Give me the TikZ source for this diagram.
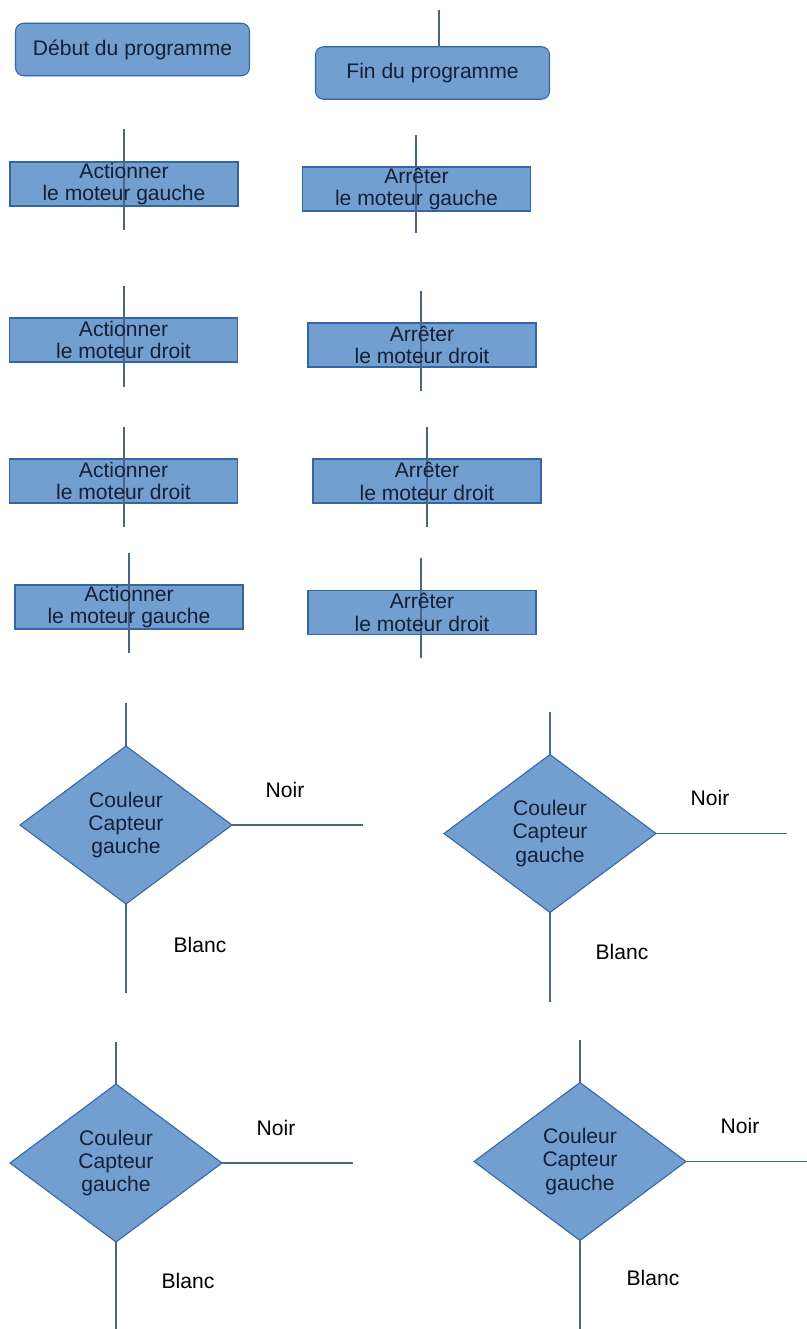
\documentclass[tikz,border=0pt]{standalone}
\usepackage{fontspec}
\setmainfont{Liberation Sans}
\usepackage{tikz}
\usetikzlibrary{arrows,positioning,shapes.geometric}
\definecolor{boxfill}{HTML}{729FCF}
\definecolor{boxline}{HTML}{3465A4}
\definecolor{wirecol}{HTML}{4A6587}
\definecolor{txtcol}{HTML}{142036}
\tikzset{
    %Define style for start and end boxes
    terminal/.style={
           rectangle,
           rounded corners=0.16cm,
           draw=boxline, line width=0.6pt,
           fill=boxfill,
           minimum width=4.68cm,
           minimum height=1.05cm,
           inner sep=0pt, outer sep=0pt,
           text=txtcol,
           font=\fontsize{12}{13}\selectfont},
    %Define style for action boxes
    action/.style={
           rectangle,
           draw=boxline, line width=0.6pt,
           fill=boxfill,
           minimum width=4.56cm,
           minimum height=0.88cm,
           inner sep=0pt, outer sep=0pt},
    %Define style for the texts of the boxes
    actiontext/.style={
           align=center,
           inner sep=0pt,
           text=txtcol,
           font=\fontsize{12}{13}\selectfont},
    %Define style for tests
    test/.style={
           diamond,
           aspect=1.34,
           draw=boxline, line width=0.6pt,
           fill=boxfill,
           minimum width=4.24cm,
           minimum height=3.16cm,
           inner sep=0pt, outer sep=0pt,
           align=center,
           text=txtcol,
           font=\fontsize{12}{13.3}\selectfont},
    % Define style for answers
    answer/.style={
           inner sep=0pt,
           text=black,
           font=\fontsize{12}{13}\selectfont},
    % Define wire style
    wire/.style={
           draw=wirecol,
           line width=0.65pt}
}

\begin{document}
\begin{tikzpicture}[x=0.02cm,y=-0.02cm]
\useasboundingbox (0,0) rectangle (807,1329);

% start and end
\node[terminal](debut) at (132.5,49.5){Début du programme};
\node[terminal](fin) at (432.5,73){Fin du programme};
\coordinate (fin-in) at (439,10);
\draw[wire] (fin-in) -- (fin-in |- fin.north);

% boxes
\node[action](act1) at (124,184){};
\node[action](arr1) at (416.5,189){};
\node[action](act2) at (123.5,340){};
\node[action](arr2) at (422,345){};
\node[action](act3) at (123.5,481){};
\node[action](arr3) at (427,481){};
\node[action](act4) at (129,607){};
\node[action](arr4) at (422,612.5){};

\coordinate (act1-in) at (124,129);  \coordinate (act1-out) at (124,230);
\coordinate (arr1-in) at (416,135);  \coordinate (arr1-out) at (416,233);
\coordinate (act2-in) at (124,286);  \coordinate (act2-out) at (124,387);
\coordinate (arr2-in) at (421,291);  \coordinate (arr2-out) at (421,391);
\coordinate (act3-in) at (124,427);  \coordinate (act3-out) at (124,527);
\coordinate (arr3-in) at (427,427);  \coordinate (arr3-out) at (427,527);
\coordinate (act4-in) at (129,553);  \coordinate (act4-out) at (129,653);
\coordinate (arr4-in) at (421,558);  \coordinate (arr4-out) at (421,658);

\draw[wire]
	(act1-in) -- (act1-out)
	(arr1-in) -- (arr1-out)
	(act2-in) -- (act2-out)
	(arr2-in) -- (arr2-out)
	(act3-in) -- (act3-out)
	(arr3-in) -- (arr3-out)
	(act4-in) -- (act4-out)
	(arr4-in) -- (arr4-out);

\node[actiontext](act1-txt) at (act1){Actionner\\le moteur gauche};
\node[actiontext](arr1-txt) at (arr1){Arrêter\\le moteur gauche};
\node[actiontext](act2-txt) at (act2){Actionner\\le moteur droit};
\node[actiontext](arr2-txt) at (arr2){Arrêter\\le moteur droit};
\node[actiontext](act3-txt) at (act3){Actionner\\le moteur droit};
\node[actiontext](arr3-txt) at (arr3){Arrêter\\le moteur droit};
\node[actiontext](act4-txt) at (act4){Actionner\\le moteur gauche};
\node[actiontext](arr4-txt) at (arr4){Arrêter\\le moteur droit};

% tests
\node[test](test1) at (126,825){Couleur\\Capteur\\gauche};
\node[test](test2) at (550,833.5){Couleur\\Capteur\\gauche};
\node[test](test3) at (116,1163){Couleur\\Capteur\\gauche};
\node[test](test4) at (580,1161.5){Couleur\\Capteur\\gauche};

\coordinate (test1-in) at (126,703);  \coordinate (test1-noir) at (363,825);  \coordinate (test1-blanc) at (126,993);
\coordinate (test2-in) at (550,712);  \coordinate (test2-noir) at (787,833.5);  \coordinate (test2-blanc) at (550,1002);
\coordinate (test3-in) at (116,1042);  \coordinate (test3-noir) at (353,1163);  \coordinate (test3-blanc) at (116,1329);
\coordinate (test4-in) at (580,1040);  \coordinate (test4-noir) at (807,1161.5);  \coordinate (test4-blanc) at (580,1329);

\draw[wire]
	(test1-in) -- (test1.north) (test1.east) -- (test1-noir) (test1.south) -- (test1-blanc)
	(test2-in) -- (test2.north) (test2.east) -- (test2-noir) (test2.south) -- (test2-blanc)
	(test3-in) -- (test3.north) (test3.east) -- (test3-noir) (test3.south) -- (test3-blanc)
	(test4-in) -- (test4.north) (test4.east) -- (test4-noir) (test4.south) -- (test4-blanc);

\node[answer](noir1) at (285,790){Noir};
\node[answer](blanc1) at (200,945){Blanc};
\node[answer](noir2) at (710,798){Noir};
\node[answer](blanc2) at (622,952){Blanc};
\node[answer](noir3) at (276,1128){Noir};
\node[answer](blanc3) at (188,1281){Blanc};
\node[answer](noir4) at (740,1126){Noir};
\node[answer](blanc4) at (653,1278){Blanc};
\end{tikzpicture}
\end{document}
